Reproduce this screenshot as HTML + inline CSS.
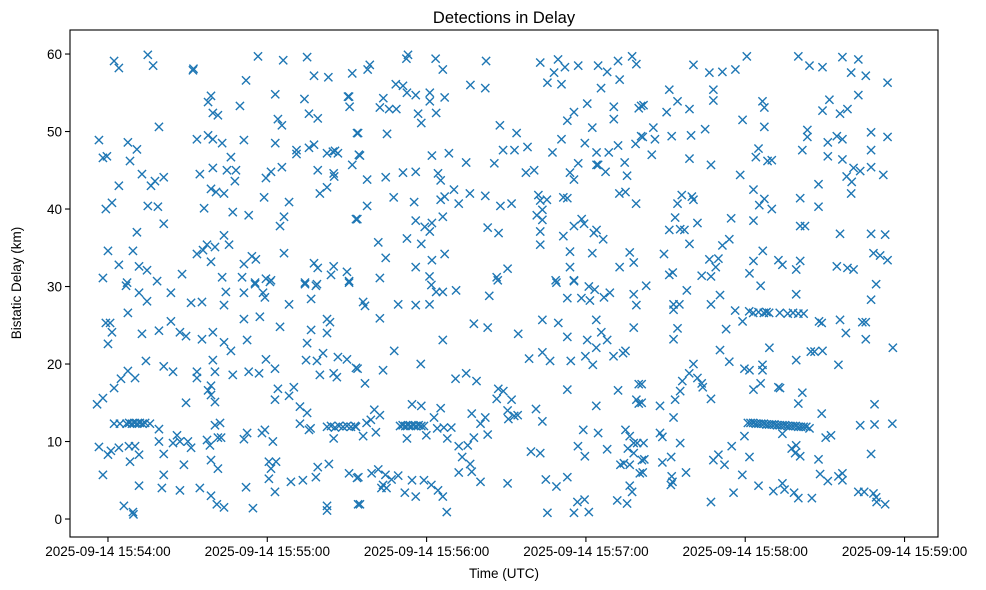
<!DOCTYPE html>
<html><head><meta charset="utf-8"><title>Detections in Delay</title>
<style>
html,body{margin:0;padding:0;background:#fff;}
svg{display:block;font-family:"Liberation Sans","DejaVu Sans",sans-serif;}
</style></head>
<body>
<svg id="chart" width="986" height="590" viewBox="0 0 986 590" xmlns="http://www.w3.org/2000/svg">
<rect x="0" y="0" width="986" height="590" fill="#fff"/>
<text x="504" y="23" text-anchor="middle" font-size="16.5" fill="#000">Detections in Delay</text>
<g id="marks"></g>
<g id="xaxis"></g>
<g id="yaxis"></g>
<rect x="70" y="30" width="868" height="507" fill="none" stroke="#000" stroke-width="1.1"/>
<text x="504" y="578" text-anchor="middle" font-size="13.5" fill="#000">Time (UTC)</text>
<text x="21" y="283" text-anchor="middle" font-size="13.5" fill="#000" transform="rotate(-90 21 283)">Bistatic Delay (km)</text>
</svg>
<script>
// seconds after 2025-09-14 15:54:00 UTC
const xTickSeconds = [0, 60, 120, 180, 240, 300];
const xTickLabels = ["2025-09-14 15:54:00","2025-09-14 15:55:00","2025-09-14 15:56:00","2025-09-14 15:57:00","2025-09-14 15:58:00","2025-09-14 15:59:00"];
const yTickValues = [0, 10, 20, 30, 40, 50, 60];
const yTickLabels = ["0","10","20","30","40","50","60"];
// detections: [seconds after 15:54:00, bistatic delay km]
const detections = [
[2.3,59.1],[4.1,58.2],[15,59.9],[17,58.5],[32,57.9],[32.2,58.1],[56.5,59.7],[66,59.2],[75,59.6],[52,56.6],[77.6,57.2],[83,57],[92,57.5],
[63,54.8],[74,54.2],[90.4,54.5],[90.8,54.5],[91,53.2],[38.8,54.6],[37.7,53.8],[49.7,53.3],[39.5,52.4],[41.4,52.1],[64,51.6],[65.5,50.8],
[75.7,52.3],[79,51.7],[93.8,49.8],[19.2,50.6],[-3.4,48.9],[7.5,48.6],[10.9,47.7],[-1.9,46.6],[-0.4,46.8],[8.3,46.2],[33.5,49],[37.7,49.5],
[39.5,49],[43,48.5],[51.2,48.9],[63,48.5],[71,47.6],[71,47.1],[75.7,47.9],[77.6,48.3],[82.5,47.2],[84.7,47.4],[85.5,47.5],[86.6,47.2],[94.5,47],
[92,45.7],[46.3,46.7],[12.8,44.5],[16.2,43],[17.7,43.6],[21,44.1],[4.1,43],[34.6,44.5],[39.5,45.3],[44.8,45],[48.2,45],[47.8,43.6],
[38.8,42.6],[40.7,42.2],[43.7,42],[59.5,44],[61.4,44.8],[65.5,45.4],[79,45],[85,44.6],[85.2,44.2],[79.8,42],[82.5,42.8],[-0.8,40],[1.5,40.8],
[15,40.4],[18.8,40.3],[36.2,40.1],[47,39.6],[53,39.2],[58.8,41.5],[68.2,40.9],[66.3,39],[64.8,37.8],[93.4,38.7],[21,38.1],[10.9,37],
[0,34.6],[9.4,34.6],[4.1,32.8],[11.7,32.6],[14.7,32.1],[-1.9,31.1],[7.2,30.5],[18.5,30.7],[27.9,31.6],[33.5,34.2],[35.8,34.7],[37.3,35.4],
[40.3,35.1],[43.7,36.6],[45.6,35.4],[38.8,33.2],[43,31.2],[50.5,31.2],[51.2,32.9],[54.2,33.9],[55.7,33.5],[55.4,30.5],[59.5,31],[61.4,30.8],
[66.3,34.3],[74.2,30.5],[77.6,33],[79,32.4],[85,32.6],[84,31.5],[78.7,30.3],[90,31.9],[90.8,30.7],
[6.8,30.1],[11.7,29.2],[14.7,28.1],[23.7,29.2],[31.3,27.9],[35.4,28],[43.7,27.6],[44.4,29.3],[51.2,29.2],[55.4,30.3],[58.4,29.2],[59.1,28.6],
[61,30.6],[68.2,27.7],[74.2,30.3],[78.3,30.1],[76.5,28.4],[90.8,30.5],[7.5,26.6],[-0.8,25.3],[0.8,25.3],[1.5,24.1],[0,22.6],[12.8,23.9],
[19.2,24.3],[23.7,25.5],[27.1,24.1],[29.4,23.6],[35.4,23.2],[39.5,24.1],[43.7,22.8],[46.3,21.7],[51.2,25.8],[57.2,26.1],[52.4,23.1],[64.8,24.8],
[76.5,24.4],[82.5,25.8],[83.6,25.4],[82.5,24],[75,22.7],[14.3,20.4],[7.5,19.1],[10.2,18.2],[4.9,18.1],[2.3,16.9],[-1.9,15.6],[-4.1,14.8],
[21,19.7],[24.5,19],[33.5,19],[33.5,18.2],[39.5,20.5],[40.3,19],[47,18.6],[53,19],[56.9,18.8],[59.5,20.6],[62.9,19.4],[38.8,17.2],[37.7,16.6],
[38.8,16],[40.3,15.1],[29.4,15],[64,16.8],[62.9,15.4],[70,17],[68.2,15.9],[72.3,14.5],[75,13.7],[72.3,12.3],[75.7,11.5],[76.3,11.7],[74.6,20.5],
[78.7,20.4],[81,21.4],[86.6,20.9],[90,20.6],[93.4,19.5],[79.8,18.6],[85,18.8],[86.2,18.3],
[2.3,12.3],[4.5,12.3],[7,12.3],[8,12.4],[9,12.3],[10,12.4],[11,12.3],[12,12.4],[13,12.3],[14,12.4],[15.8,12.3],
[19.2,11.6],[26,10.8],[24.5,9.8],[27.1,10],[30.1,10],[31.3,9.2],[19.2,10],[21,8.4],[37.3,10.2],[38.4,9.5],[41.4,10.5],[42.6,10.5],[40.3,12.1],
[42.2,12.4],[51.2,10.3],[52.4,11.1],[58,11.1],[59.1,11.5],[62.1,10],[-3.4,9.3],[0,8.3],[1.1,8.8],[4.1,9.2],[7.9,9.4],[10.2,9.4],[11.7,8.3],
[8.3,7.4],[28.6,7],[38.8,7.6],[41.4,6.5],[60.6,7.4],[63.3,7.4],[61.4,6.5],[60.6,5.2],[79,6.7],[83.2,7.1],[78.3,5.4],[73.4,5],[68.9,4.8],
[62.9,3.5],[90.8,5.9],[93.8,5.3],[-1.9,5.7],[21,5.7],[11.7,4.3],[20.3,4],[27.1,3.7],[34.6,4],[38.8,3],[41,1.9],[43.7,1.5],[52,4.1],[54.6,1.4],
[6,1.7],[9.4,0.9],[9.6,0.6],[82.5,1.7],[82.5,1.1],[94.2,1.9],
[82.5,11.9],[84,12],[85.5,11.8],[87,12],[88.5,11.9],[90,12],[91.5,11.9],[93,12],[85,10.4],
[98.6,58.6],[97.8,58],[113,59.9],[112.4,59.4],[123.4,59.4],[126.1,58],[142.4,59.1],[162.8,58.9],[169.5,59.3],[172.1,58.3],[168,57.6],
[177.1,58.5],[184.6,58.5],[188,57.7],[192.1,59.1],[197.4,59.7],[199,58.7],[192.7,56.7],[185.7,55.6],[165.5,56.3],[170.8,56.1],[108.4,56.1],
[111.1,55.9],[112.6,55],[115.9,54.7],[121.2,55],[121.2,53.9],[126.8,54.4],[103.7,54.3],[102.4,53.1],[105.9,52.9],[108.6,52.9],[116.8,52.3],
[123.6,52.4],[118,51.1],[136.5,56],[142.1,55.6],[147.6,50.8],[153.9,49.8],[158,48],[148.8,47.6],[153.1,47.6],[167.4,47.3],[170.8,49],
[175.5,52.5],[173,51.4],[180.5,53.6],[182.4,50.5],[190.5,53.2],[190.5,51.6],[199.9,53],[200.8,53.3],[200.8,49.4],[198.7,48.4],[179.6,48.5],
[184,47.3],[188.6,47.3],[192.1,48.2],[177.1,45.9],[174,44.7],[175.5,43.8],[184,45.7],[184.6,45.7],[187.4,44.8],[194.6,46],[195.5,44.3],
[192.6,42],[194.9,42.2],[198.9,40.7],[94.2,49.8],[94.9,46.9],[97.6,43.8],[104.6,44.1],[105.1,49.7],[122,46.9],[128.4,47.2],[134.9,46],
[145.5,45.9],[157.4,44.7],[160.5,45],[111.1,44.7],[115.9,44.8],[124.3,44.6],[125.3,43.7],[107.6,41.5],[115.3,40.9],[97.6,40.4],[125.3,41.2],
[126.8,41.6],[130.3,42.5],[132.1,40.7],[136.3,42],[142.1,41.7],[147.8,40.4],[152,40.7],[162.1,41.8],[162.8,41.1],[165.3,41.2],[171.5,41.5],
[173,41.4],[163.6,39.9],[161.5,39.2],[163.6,38.6],[162.8,37.1],[162.8,35.4],[93.9,38.7],[115.9,38.5],[119.3,37.7],[121.2,37.1],[122,38.2],
[126.1,39],[143,37.6],[147.1,36.9],[171.5,36.5],[175.5,37.8],[178.4,38.7],[179.3,38.1],[183,36.9],[184,37.3],[186.5,36.1],[101.8,35.7],
[112.6,36.2],[118,35.5],[104.6,33.7],[122,33.4],[126.8,34.2],[115.9,32.5],[102.4,31.1],[121.1,31.3],[146.4,31.2],[150.5,32.3],[174,34.5],
[182.4,34.3],[174,32.5],[168.6,30.8],[175.5,30.8],[192.7,32.5],[198,33.1],[196.5,34.4],
[96.1,28],[96.8,27.5],[109.3,27.7],[115.9,27.6],[121.1,27.7],[121.8,30.2],[123.6,29.3],[126.1,29.3],[131.1,29.5],[143.6,28.8],[146.8,30.8],
[168.9,30.5],[175.5,30.7],[173,28.5],[178.3,28.5],[181.5,28.2],[181.1,30],[183.3,29.6],[186.8,28.6],[189,29.2],[198,29],[199,27.6],[102.4,25.9],
[137.8,25.2],[143,24.7],[154.5,23.9],[163.6,25.7],[169.6,25.3],[173,23.5],[183.9,25.7],[185.8,24.1],[180.5,23.1],[188,23.1],[183.9,22.1],
[198,24.7],[126.1,23.1],[107.8,21.7],[117.8,20],[103.6,19.2],[94,19.4],[96.8,17.5],[158.6,20.7],[163.6,21.5],[166.5,20.4],[174.3,20.4],
[179.8,21],[182.6,19.9],[190.4,21],[194,21.4],[194.9,21.7],[130.9,18.1],[134.9,18.8],[138.8,17.8],[147,16.8],[148.9,16.5],[146.4,15.5],
[152,15.4],[173,16.7],[192.1,16.6],[199.9,17.4],[199,15.4],[199.9,14.9],[183.9,14.6],[114.5,14.8],[118,14.6],[125.3,14.3],[100.3,14.1],
[102.4,13.4],[97.4,12.4],[99,12.8],[93.4,11.9],[96.1,10.7],[100.9,11.2],
[110,12],[111,12.1],[112,12],[113,12.1],[114,12],[115,12.1],[116,12],[117,12.1],[118,12],[119,12],
[112.6,10.4],[119.9,10.8],[122.8,13.1],[124,11.7],[126.5,11.8],[129.3,11.8],[127.8,10.4],[137,13.6],[140.3,12.3],[142.1,13.1],[143,10.9],
[137.8,10.5],[135.5,9.5],[132.1,9.4],[133.4,8],[136.4,7.1],[137,6.1],[132.1,6],[140.3,4.8],[150.5,14],[150.8,12.9],[153,13.3],[154.3,13.4],
[161.2,14.2],[163.6,12.6],[159.3,8.7],[162.8,8.5],[150.5,4.6],[164.9,5.1],[168.9,4.2],[173,5.4],[165.5,0.8],[175.5,0.8],[176.8,2.2],[179.5,2.5],
[181.1,0.9],[179,11.5],[184.6,11.1],[177,9.4],[179.6,8.1],[188,9],[194.9,11.5],[196.5,10.7],[198,9.8],[199.3,9.8],[195.8,9.1],[198,8.5],
[201.1,7.6],[193,7],[194.3,7.2],[196.5,7],[200.3,5.9],[191.8,2.4],[195.5,2],[196.5,4.3],[197.4,3.5],[94.3,5.4],[94.9,1.9],[99.3,5.9],[101.8,6.4],
[104.5,5.7],[106.8,5.1],[109.3,5.6],[103.6,4.4],[104.9,4],[103,4],[111.8,3.4],[114.5,5],[115.9,2.9],[119,5],[121.8,4.4],[124.3,3.7],[126.1,2.9],
[127.6,0.9],
[220.5,58.6],[226.5,57.6],[231.4,57.7],[236.3,58],[240.6,59.7],[260,59.7],[264.2,58.5],[269.1,58.3],[276.6,59.6],[282.6,59.3],[279.9,57.6],
[285.4,57.2],[293.6,56.3],[211.4,55.4],[214.5,53.9],[219,52.9],[210.4,52.5],[201.7,53.4],[228,55.4],[228,54],[239,51.5],[246.5,53.9],
[247.2,53.1],[247.2,50.6],[271.7,54.1],[269.1,52.7],[275.7,52.3],[278.5,52.9],[282.6,54.7],[205.4,50.5],[201.4,49.3],[206,49],[212.3,49.4],
[219.6,49.5],[224.9,50.3],[204.8,47],[219,46.5],[227.1,45.7],[238.1,44.4],[245,47.8],[244,46.7],[248.4,46.2],[250,46.3],[261.5,47.6],
[263.4,50.2],[263.4,49.3],[271.1,48.6],[274.5,49.4],[276.6,49],[271.1,46.8],[276.6,46.4],[287.4,49.9],[293.6,49.3],[287.4,47.6],[287.4,45.4],
[280.8,45.3],[283.3,44.9],[278.2,44.2],[280.1,43.5],[279.9,42],[292,44.4],[267.6,43.2],[267.6,40.3],[260.7,41.4],[243.1,42.5],[247.2,41.3],
[245.3,40.5],[250,40],[243.1,38.5],[216.1,41.8],[214.5,40.7],[219.9,41.6],[220.5,41.2],[213.6,38.9],[211.4,37.3],[215.5,37.4],[217.1,37.3],
[222,38.2],[219,35.5],[234.7,38.8],[234,36.1],[231.4,35.3],[209.4,34.2],[226.5,33.5],[229.9,33.6],[228.9,32.5],[211.4,31.5],[212.7,31.8],
[223.6,31.4],[227.1,31.3],[241.6,31.7],[243.1,33.3],[246.6,34.6],[252.5,33.4],[254,32.8],[259.2,32.2],[260.7,33.3],[260.7,37.8],[262.5,37.8],
[275.7,36.8],[287.4,36.8],[292.7,36.7],[288.3,34.3],[290.8,34],[293.6,33.4],[274.5,32.6],[278.5,32.4],[280.8,32.2],
[202.7,30.1],[218,29.5],[227.1,27.7],[230.5,28.9],[245.8,30.1],[259.2,29],[289.3,30.3],[287.4,28.3],[213,27.7],[215.2,27.7],[213,27],
[214.5,24.6],[213,23.2],[236.2,26.9],[241.5,26.8],[239,25.5],
[243,26.6],[245,26.7],[247,26.6],[248,26.7],[249,26.6],[253,26.6],[256,26.5],[258,26.6],[260,26.5],[262,26.5],
[267.8,25.5],[268.8,25.3],[275.7,25.7],[277.9,24],[284.1,25.4],[285.4,25.4],[285.4,23.2],[295.6,22.1],[232.8,24.5],[230.5,21.8],[234,20.3],
[249.1,22.1],[259.2,20.5],[264.7,21.6],[266.1,21.6],[269.1,21.7],[275.1,19.9],[239.7,19.4],[241.6,19.2],[246.5,19.9],[246.5,19.2],[220.5,20],
[218.9,18.8],[216.3,17.8],[222,18.2],[223.6,17.5],[224,17],[215.5,16.5],[213.6,15.4],[227.1,15.5],[201,17.4],[201,15],[207.9,14.6],[213,13.1],
[243.1,16.7],[245.8,17.5],[252.5,17],[253.1,16.9],[261.5,16.3],[260,14.9],[268.8,13.6],[283.3,12.1],[288.7,12.2],[295.4,12.3],[288.7,14.8],
[241,12.4],[242,12.4],[243,12.4],[244,12.3],[245,12.3],[246,12.3],[247,12.3],[248,12.2],[249,12.2],[250,12.2],[251,12.2],[252,12.1],
[253,12.1],[254,12.1],[255,12.1],[256,12],[257,12],[258,12],[259,12],[260,11.9],[261,11.9],[262,11.9],[263,11.9],
[254,11],[264.2,11.7],[270.3,10.5],[272.3,10.8],[239.7,10.7],[234.9,9.4],[229.9,8.3],[228,7.6],[232.2,7],[241.6,8],[257.5,9.1],[259.2,9.5],
[258.8,8.5],[260.7,8.1],[267.6,7.7],[287.4,8.4],[207.9,11.1],[208.8,10.6],[215.5,9.8],[201.7,9.8],[202,7.7],[208.8,7.3],[212.1,8],[201.4,6],
[212.3,5.5],[212.6,4.8],[212,4.4],[217.7,6],[238.9,5.7],[235.6,3.4],[227.1,2.2],[245,4.3],[250.6,3.6],[254,4.6],[254.8,3.8],[258.4,3.4],
[260,2.7],[265.1,2.7],[268.2,5.8],[271.1,4.9],[275.1,5.5],[276.6,5.9],[276.6,5],[282.6,3.5],[284.8,3.5],[288.3,3.3],[289.3,2.8],[289.5,2.2],
[292.7,1.9]
];

const NS = "http://www.w3.org/2000/svg";
const plot = {left:70, right:938, top:30, bottom:537};
const xDomain = [-14.3, 312.6];
const yDomain = [-2.32, 63.1];
function xScale(t){ return plot.left + (t - xDomain[0]) / (xDomain[1] - xDomain[0]) * (plot.right - plot.left); }
function yScale(v){ return plot.bottom - (v - yDomain[0]) / (yDomain[1] - yDomain[0]) * (plot.bottom - plot.top); }
function mk(tag, attrs){ const e = document.createElementNS(NS, tag); for (const k in attrs) e.setAttribute(k, attrs[k]); return e; }

const marks = document.getElementById('marks');
const r = 4.1;
detections.forEach(function(p, i){
  const cx = xScale(p[0]), cy = yScale(p[1]);
  const g = mk('path', {d:'M'+(cx-r)+' '+(cy-r)+'L'+(cx+r)+' '+(cy+r)+'M'+(cx-r)+' '+(cy+r)+'L'+(cx+r)+' '+(cy-r), stroke:'#1f77b4', 'stroke-width':'1.4', fill:'none'});
  
  
  marks.appendChild(g);
});

const xaxis = document.getElementById('xaxis');
xTickSeconds.forEach(function(s, i){
  const x = xScale(s);
  const tk = mk('line', {x1:x, x2:x, y1:plot.bottom, y2:plot.bottom+5, stroke:'#000', 'stroke-width':'1.1'});
  
  
  xaxis.appendChild(tk);
  const lb = mk('text', {x:x, y:plot.bottom+19, 'text-anchor':'middle', 'font-size':'13.5', fill:'#000'});
  
  
  lb.textContent = xTickLabels[i];
  xaxis.appendChild(lb);
});
const yaxis = document.getElementById('yaxis');
yTickValues.forEach(function(v, i){
  const y = yScale(v);
  const tk = mk('line', {x1:plot.left-5, x2:plot.left, y1:y, y2:y, stroke:'#000', 'stroke-width':'1.1'});
  
  
  yaxis.appendChild(tk);
  const lb = mk('text', {x:plot.left-8, y:y+5, 'text-anchor':'end', 'font-size':'13.5', fill:'#000'});
  
  
  lb.textContent = yTickLabels[i];
  yaxis.appendChild(lb);
});
</script>
</body></html>
